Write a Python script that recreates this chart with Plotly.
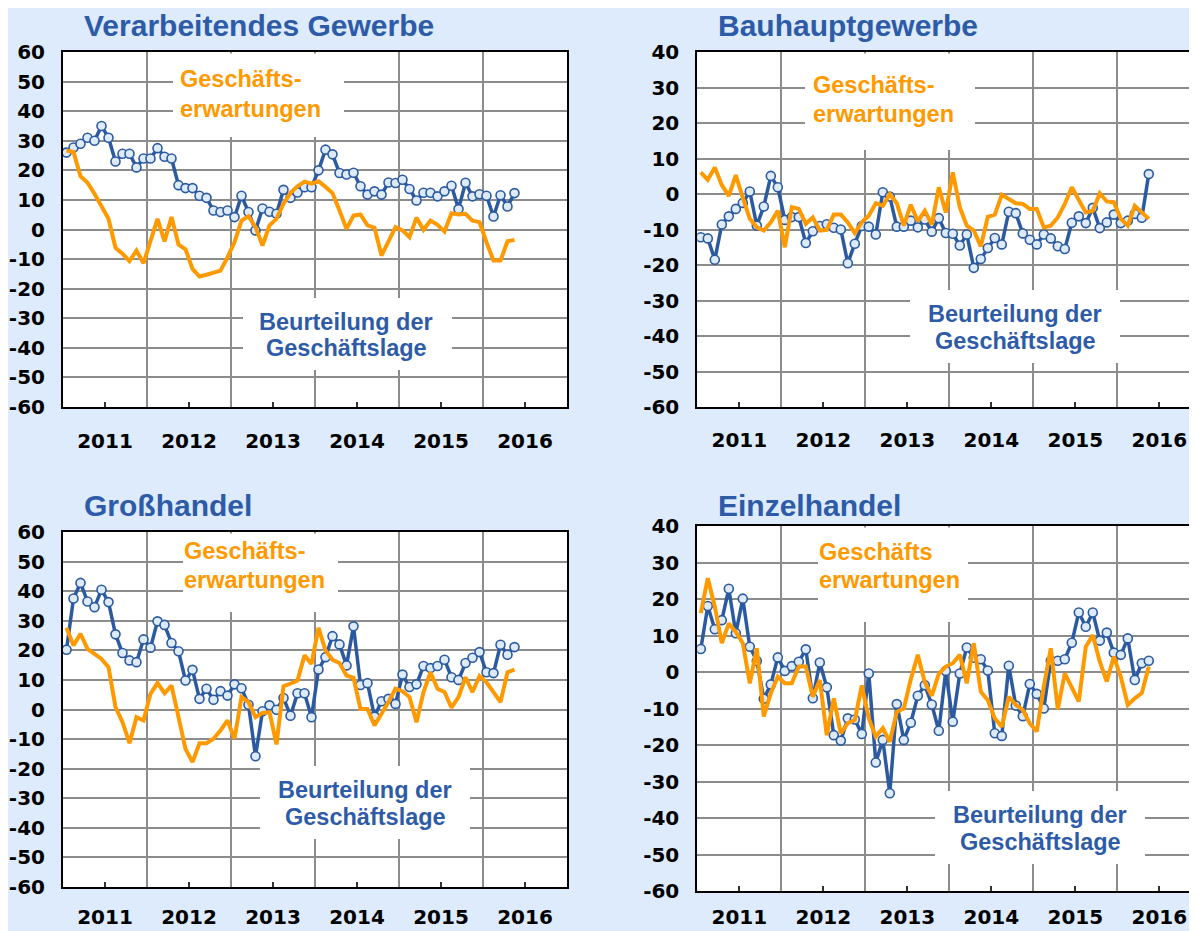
import pandas as pd
import plotly.graph_objects as go

# ---------------- data ----------------
months = pd.period_range("2011-01", periods=65, freq="M")
year_labels = ["2011", "2012", "2013", "2014", "2015", "2016"]
y_vals_a = [-60, -50, -40, -30, -20, -10, 0, 10, 20, 30, 40, 50, 60]
y_text_a = ["-60", "-50", "-40", "-30", "-20", "-10", "0", "10", "20", "30", "40", "50", "60"]
y_vals_b = [-60, -50, -40, -30, -20, -10, 0, 10, 20, 30, 40]
y_text_b = ["-60", "-50", "-40", "-30", "-20", "-10", "0", "10", "20", "30", "40"]

vg_lage = [26, 27.7, 29, 31, 30, 35, 31, 23, 25.6, 25.6, 21, 24, 24, 27.5, 24.6, 24,
           15, 14, 14, 11.4, 10.7, 6.4, 5.9, 6.4, 4.2, 11.4, 5.9, -0.3, 7.1, 6, 5.3,
           13.4, 10.7, 12.5, 14.3, 14.3, 20, 27, 25.4, 19.1, 18.6, 19.2, 14.6, 11.8,
           12.9, 11.8, 15.9, 15.7, 16.8, 13.7, 9.8, 12.4, 12.4, 11.2, 12.9, 14.8, 6.9,
           15.8, 11.2, 11.9, 11.4, 4.4, 11.6, 7.8, 12.3]
vg_erw = [26.7, 26.2, 18, 15.8, 12.1, 7.9, 3.6, -6.2, -8.2, -10.7, -7.1, -11.4, -3.7,
          3.6, -4, 4.2, -5.1, -6.7, -13.3, -15.9, -15.3, -14.5, -13.9, -9.4, -4.3, 3,
          4.5, 0.8, -5.4, 1.4, 3.6, 8.7, 12.4, 14.6, 16.2, 15.5, 16.3, 14.4, 12.3, 6.4,
          0.2, 4.7, 5.1, 1.4, 0.6, -8.8, -4.3, 0.8, -0.3, -2.6, 4, -0.1, 3, 1.6, -0.7,
          5.5, 5.1, 5.3, 3, 2.5, -4.3, -10.5, -10.5, -4, -3.5]

bau_lage = [-12.2, -12.5, -18.5, -8.6, -6.3, -4.2, -2.5, 0.7, -8.9, -3.5, 5.1, 1.9,
            -7.3, -6.5, -6.5, -13.8, -10.5, -9, -8.5, -9.5, -10, -19.5, -14, -9, -9.2,
            -11.4, 0.5, -0.7, -9.2, -9.2, -7.5, -9.4, -7.2, -10.6, -6.8, -11, -11.2,
            -14.5, -11.4, -20.8, -18.3, -15.2, -12.4, -14.2, -5, -5.4, -11.1, -12.9,
            -14.2, -11.4, -12.5, -14.7, -15.5, -8.1, -6.3, -8.2, -3.9, -9.6, -8, -5.8,
            -8.2, -7.5, -5.6, -6.7, 5.6]
bau_erw = [6.1, 4, 7.5, 2.5, -0.5, 5.3, -1, -7, -9.4, -10.3, -8, -4.7, -15, -3.7, -4.2,
           -8.4, -6.6, -10.3, -10.1, -5.8, -5.8, -8, -11, -8, -6.1, -2.6, -3.3, 0, -2.6,
           -8.9, -3, -7.7, -4.7, -8.6, 1.9, -5.2, 6.1, -3.7, -8.9, -10.3, -14.8, -6.4,
           -5.8, -0.2, -1.4, -2.6, -2.8, -4.2, -4.2, -9.4, -8.9, -6.6, -2.8, 1.9, -1.7,
           -5.2, -4.7, 0.2, -2.1, -2.3, -7, -8.9, -3.3, -5.2, -7]

gh_lage = [20.2, 37.5, 42.8, 36.5, 34.6, 40.5, 36.3, 25.4, 19.1, 16.6, 16, 23.7, 20.9,
           29.8, 28.6, 22.5, 19.7, 9.8, 13.4, 3.6, 7, 3.3, 6.2, 4.7, 8.5, 7.2, 1.6,
           -15.8, -0.6, 1.4, -0.1, 3.9, -2.1, 5.5, 5.5, -2.6, 13.5, 17.7, 24.8, 22,
           14.9, 28.1, 8.3, 8.9, -2.4, 2.8, 3.6, 1.9, 11.8, 7.6, 8.5, 14.7, 14, 14.7,
           16.8, 10.9, 10, 15.7, 17.5, 19.4, 12.6, 12.3, 21.9, 18.5, 21.1]
gh_erw = [27.6, 21.6, 25.6, 20.5, 18.8, 17.1, 14.3, 0.8, -4.3, -11.4, -2.6, -3.7, 5.3,
          9, 5.5, 8.1, -2.6, -13.3, -17.8, -11.4, -11.4, -9.9, -7.1, -3.7, -9.9, 4.2,
          2.5, -2.6, -1.2, -0.9, -11.8, 7.9, 8.7, 9.8, 18.3, 15.4, 27.6, 20, 16.8, 15.7,
          11.5, 10.7, 0.2, 0.2, -5.4, -1.5, 2.5, 7, 6.2, 4.2, -4.3, 5.9, 12.6, 7, 5.9,
          0.6, 4.2, 10.9, 5.9, 11.3, 9.2, 5.9, 2.5, 12.6, 13.5]

eh_lage = [6.3, 18.1, 11.7, 14.2, 22.8, 10.6, 20.1, 6.9, 3, -7.3, -3.4, 4, 0.3, 1.6,
           2.8, 6.2, -7.2, 2.6, -4.2, -17.3, -18.8, -12.7, -13, -17, -0.4, -24.8,
           -18.6, -33.2, -8.8, -18.6, -13.9, -6.5, -3.6, -8.9, -16.1, 0.3, -13.6, -0.4,
           6.7, 3.9, 3.5, 0.4, -16.8, -17.5, 1.7, -9.2, -12.1, -3.3, -6, -10, 3.1, 3.1,
           3.5, 8, 16.3, 12.4, 16.3, 8.6, 10.8, 5.3, 4.7, 9.2, -2.2, 2.4, 3.1]
eh_erw = [16.1, 25.7, 17.9, 7.9, 13.3, 11, 7.9, -3.1, 6.5, -12.2, -5.8, -1.3, -3.1,
          -3.1, 1.5, 1.5, -6.8, -2.2, -17.3, -7.2, -16.8, -14, -13.2, -3.7, -12.7,
          -17.7, -15.4, -19.1, -10.9, -10, -2, 4.7, -2.8, -6.5, -0.5, 1.5, 2.4, 4.7,
          -3.1, 7.9, -5.4, -7.7, -12.7, -15, -6.8, -9, -10.4, -14.1, -16.3, -4, 6.5,
          -10.2, -0.4, -4, -8.1, 6.9, 10.1, 2.8, -2.6, 4.2, -1.3, -9, -7.2, -5.8, 1.5]

# ---------------- styling ----------------
OFF = 8                      # page body margin of the browser
W, H = 1197 - OFF, 931 - OFF
BG = "#DDEBFD"
BLUE = "#2C5AA0"
TITLE_BLUE = "#2E5BA8"
MFILL = "#DCEAFA"
ORANGE = "#FF9900"
GRID = "#8C8C8C"
TICKFONT = dict(family="DejaVu Sans", size=20, color="black", weight="bold")
ANNFONT = "Liberation Sans, Arial, sans-serif"

x_month = [p.year + (p.month - 0.5) / 12 for p in months]


def px(x):
    return (x - OFF) / W


def py(y):
    return 1 - (y - OFF) / H


panels = [
    dict(title="Verarbeitendes Gewerbe", lage=vg_lage, erw=vg_erw, yr=[-60, 60],
         yt=(y_vals_a, y_text_a), xstand=15,
         xd=(63, 567), yd=(52, 407), xr=[2011, 2017], mirror=True, title_xy=(82, 25.5),
         erw_text=["Geschäfts-", "erwartungen"], erw_box=(173, 53.5, 344, 137),
         erw_xy=(178, 79, 109), lage_box=(243, 298, 452, 370), lage_xy=(346, 322, 348)),
    dict(title="Bauhauptgewerbe", lage=bau_lage, erw=bau_erw, yr=[-60, 40],
         yt=(y_vals_b, y_text_b), xstand=14,
         xd=(697.3, 1197), yd=(52, 407), xr=[2011, 2016.949], mirror=False,
         title_xy=(716, 25.5),
         erw_text=["Geschäfts-", "erwartungen"], erw_box=(805, 53.5, 975, 150),
         erw_xy=(811, 85, 114), lage_box=(910, 290, 1120, 363), lage_xy=(1015, 314, 341)),
    dict(title="Großhandel", lage=gh_lage, erw=gh_erw, yr=[-60, 60],
         yt=(y_vals_a, y_text_a), xstand=11,
         xd=(63, 567), yd=(532, 887), xr=[2011, 2017], mirror=True, title_xy=(82, 505.5),
         erw_text=["Geschäfts-", "erwartungen"], erw_box=(183, 533.5, 338, 612),
         erw_xy=(182, 551, 580), lage_box=(260, 766, 470, 839), lage_xy=(365, 790, 817)),
    dict(title="Einzelhandel", lage=eh_lage, erw=eh_erw, yr=[-60, 40],
         yt=(y_vals_b, y_text_b), xstand=7,
         xd=(697.3, 1197), yd=(526, 891), xr=[2011, 2016.949], mirror=False,
         title_xy=(716, 505.5),
         erw_text=["Geschäfts", "erwartungen"], erw_box=(818, 527.5, 968, 622),
         erw_xy=(817, 552, 580), lage_box=(935, 791, 1145, 864), lage_xy=(1040, 815, 842)),
]

fig = go.Figure()
layout = dict(width=W, height=H, paper_bgcolor=BG, plot_bgcolor="white",
              margin=dict(l=0, r=0, t=0, b=0, autoexpand=False), showlegend=False)
annotations = []
shapes = []

for i, p in enumerate(panels, start=1):
    sfx = "" if i == 1 else str(i)
    xa, ya = "x" + sfx, "y" + sfx
    fig.add_trace(go.Scatter(x=x_month, y=p["lage"], xaxis=xa, yaxis=ya,
                             mode="lines+markers",
                             line=dict(color=BLUE, width=3.5),
                             marker=dict(size=9, color=MFILL,
                                         line=dict(color=BLUE, width=1.6)),
                             name="Beurteilung der Geschäftslage"))
    fig.add_trace(go.Scatter(x=x_month, y=p["erw"], xaxis=xa, yaxis=ya,
                             mode="lines", line=dict(color=ORANGE, width=4),
                             name="Geschäftserwartungen"))
    layout["xaxis" + sfx] = dict(
        domain=[px(p["xd"][0]), min(1.0, px(p["xd"][1]))], range=p["xr"], anchor=ya,
        tickmode="array", tickvals=[int(y) + 0.5 for y in year_labels],
        ticktext=year_labels, ticks="inside", ticklen=5, tickwidth=1.5,
        tickcolor="#333333", showgrid=False, zeroline=False,
        showline=True, linecolor="black", linewidth=2, mirror=True,
        tickfont=TICKFONT, ticklabelstandoff=p["xstand"], automargin=False,
        minor=dict(tickmode="linear", tick0=2011, dtick=1, showgrid=True,
                   gridcolor=GRID, gridwidth=1.6, ticks=""),
        fixedrange=True)
    layout["yaxis" + sfx] = dict(
        domain=[py(p["yd"][1]), py(p["yd"][0])], range=p["yr"], anchor=xa,
        tickmode="array", tickvals=p["yt"][0], ticktext=p["yt"][1],
        showgrid=True, gridcolor=GRID,
        gridwidth=1.6, zeroline=False, showline=True, linecolor="black",
        linewidth=2, mirror=p["mirror"], ticks="", tickfont=TICKFONT,
        ticklabelstandoff=12, automargin=False, fixedrange=True)

    # panel title
    tx, ty = p["title_xy"]
    annotations.append(dict(xref="paper", yref="paper", x=px(tx), y=py(ty),
                            xanchor="left", yanchor="middle", showarrow=False,
                            text=p["title"],
                            font=dict(family=ANNFONT, size=30, color=TITLE_BLUE,
                                      weight="bold")))
    # white label boxes
    for (x0, y0, x1, y1) in (p["erw_box"], p["lage_box"]):
        shapes.append(dict(type="rect", xref="paper", yref="paper",
                           x0=px(x0), x1=px(x1), y0=py(y1), y1=py(y0),
                           fillcolor="white", line=dict(width=0), layer="above"))
    # orange label
    ex, ey1, ey2 = p["erw_xy"]
    for txt, yy in zip(p["erw_text"], (ey1, ey2)):
        annotations.append(dict(xref="paper", yref="paper", x=px(ex), y=py(yy),
                                xanchor="left", yanchor="middle", showarrow=False,
                                text=txt,
                                font=dict(family=ANNFONT, size=23.5, color=ORANGE,
                                          weight="bold")))
    # blue label
    lx, ly1, ly2 = p["lage_xy"]
    for txt, yy in zip(["Beurteilung der", "Geschäftslage"], (ly1, ly2)):
        annotations.append(dict(xref="paper", yref="paper", x=px(lx), y=py(yy),
                                xanchor="center", yanchor="middle", showarrow=False,
                                text=txt,
                                font=dict(family=ANNFONT, size=23.5, color=TITLE_BLUE,
                                          weight="bold")))

layout["annotations"] = annotations
layout["shapes"] = shapes
fig.update_layout(**layout)
fig.write_html("out.html")
